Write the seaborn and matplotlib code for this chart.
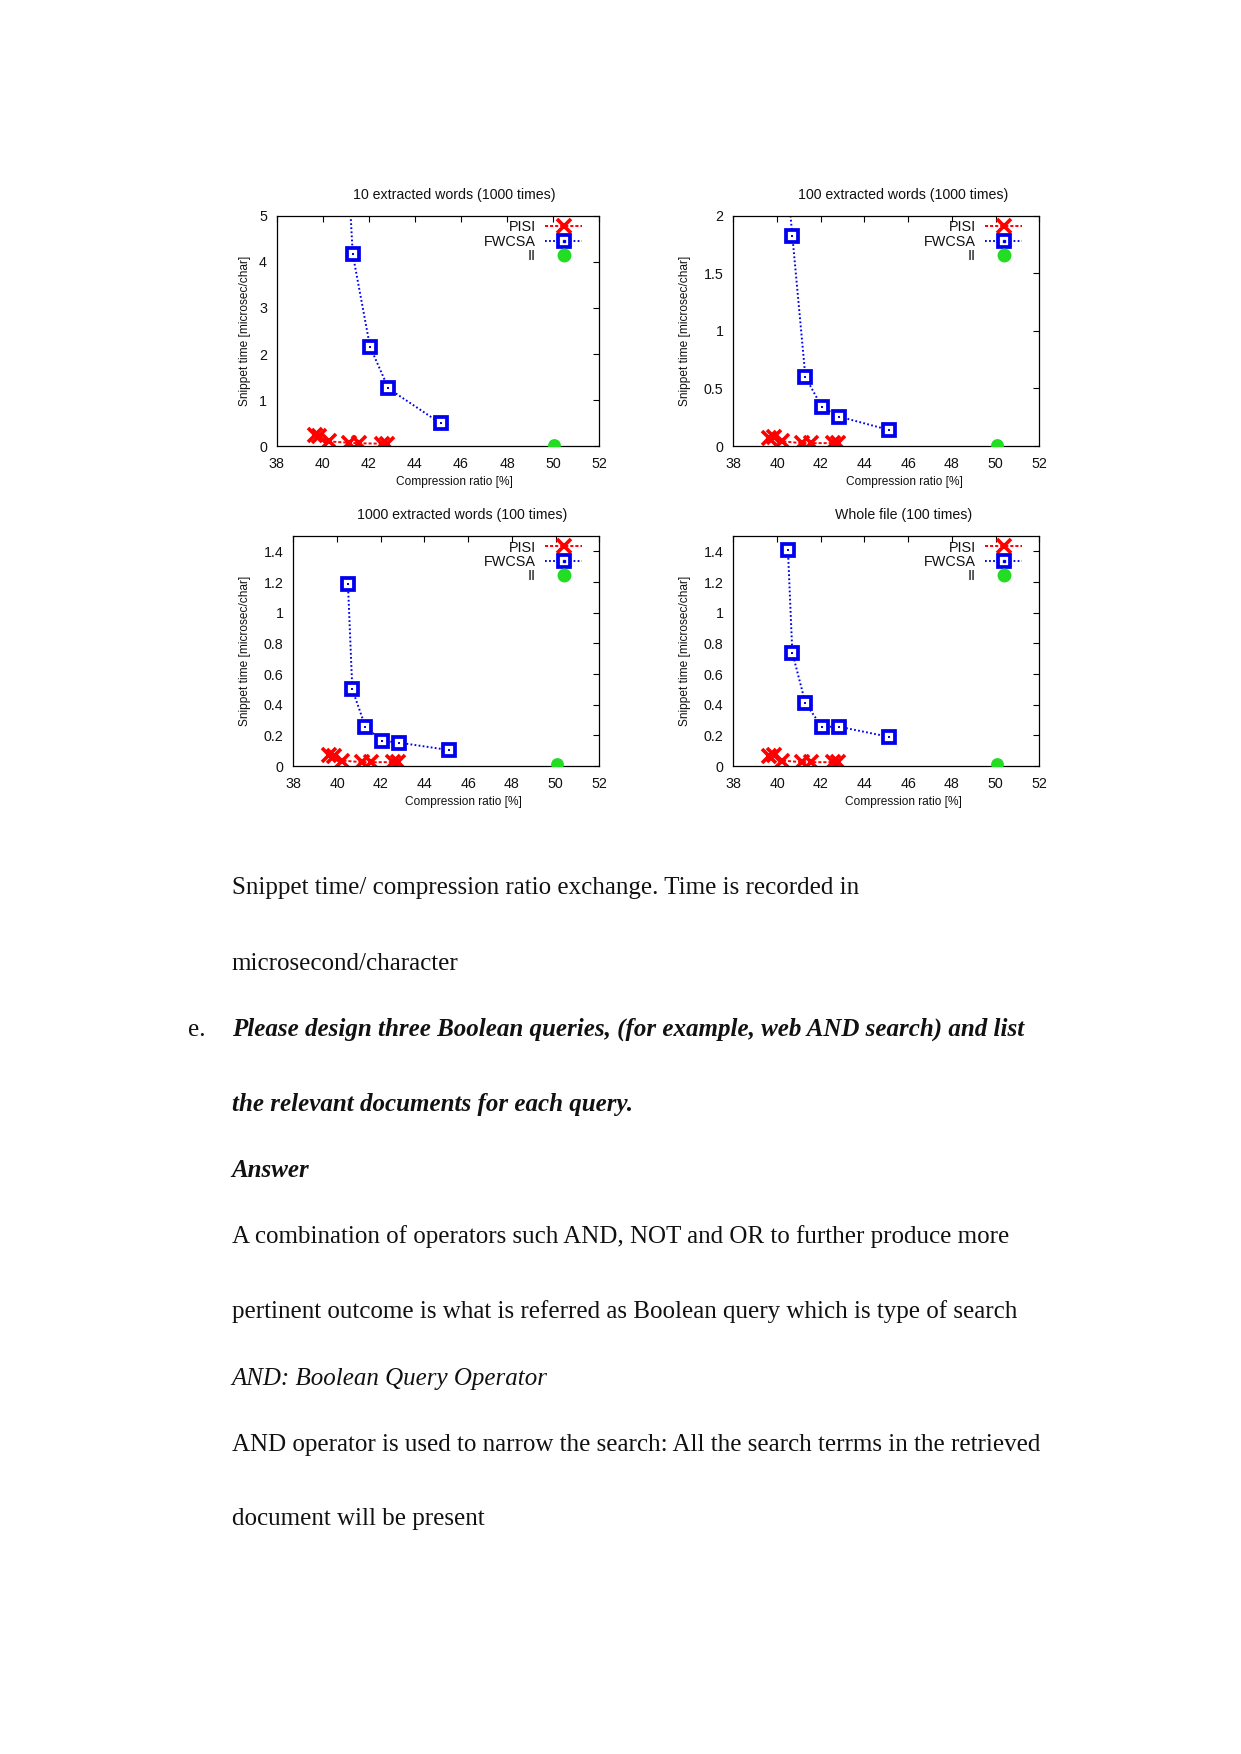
import numpy as np
import pandas as pd
import seaborn as sns
import matplotlib
matplotlib.use("Agg")
import matplotlib.pyplot as plt
from matplotlib.lines import Line2D
from matplotlib.ticker import FuncFormatter

# ---------------- data ----------------
panel_titles = ["10 extracted words (1000 times)", "100 extracted words (1000 times)",
                "1000 extracted words (100 times)", "Whole file (100 times)"]
series_names = ["PISI", "FWCSA", "II"]

pisi_x = [39.65, 39.85, 40.25, 41.15, 41.55, 42.55, 42.8]
pisi_y_10 = [0.25, 0.22, 0.10, 0.07, 0.06, 0.05, 0.05]
pisi_y_100 = [0.07, 0.08, 0.04, 0.025, 0.025, 0.025, 0.025]
pisi_y_1000 = [0.07, 0.065, 0.035, 0.025, 0.025, 0.025, 0.025]
pisi_y_whole = [0.065, 0.07, 0.035, 0.025, 0.025, 0.025, 0.025]

fwcsa_x = [40.5, 40.7, 41.3, 42.05, 42.85, 45.12]
fwcsa_y_10 = [14.0, 9.7, 4.17, 2.16, 1.25, 0.49]
fwcsa_y_100 = [2.25, 1.83, 0.60, 0.34, 0.255, 0.14]
fwcsa_y_1000 = [1.19, 0.50, 0.256, 0.165, 0.152, 0.104]
fwcsa_y_whole = [1.41, 0.74, 0.41, 0.256, 0.256, 0.19]

ii_x = [50.05]
ii_y_10 = [0.02]
ii_y_100 = [0.01]
ii_y_1000 = [0.01]
ii_y_whole = [0.01]

x_ticks = [38, 40, 42, 44, 46, 48, 50, 52]
y_ticks_10 = [0, 1, 2, 3, 4, 5]
y_ticks_100 = [0, 0.5, 1, 1.5, 2]
y_ticks_1000 = [0, 0.2, 0.4, 0.6, 0.8, 1, 1.2, 1.4]
y_ticks_whole = [0, 0.2, 0.4, 0.6, 0.8, 1, 1.2, 1.4]
y_max = [5, 2, 1.5, 1.5]

x_label = "Compression ratio [%]"
y_label = "Snippet time [microsec/char]"

body_lines = [
    ("Snippet time/ compression ratio exchange. Time is recorded in", "normal", "normal"),
    ("microsecond/character", "normal", "normal"),
    ("Please design three Boolean queries, (for example, web AND search) and list", "bold", "italic"),
    ("the relevant documents for each query.", "bold", "italic"),
    ("Answer", "bold", "italic"),
    ("A combination of operators such AND, NOT and OR to further produce more", "normal", "normal"),
    ("pertinent outcome is what is referred as Boolean query which is type of search", "normal", "normal"),
    ("AND: Boolean Query Operator", "normal", "italic"),
    ("AND operator is used to narrow the search: All the search terrms in the retrieved", "normal", "normal"),
    ("document will be present", "normal", "normal"),
]

panels = [
    (pisi_y_10, fwcsa_y_10, ii_y_10, y_ticks_10),
    (pisi_y_100, fwcsa_y_100, ii_y_100, y_ticks_100),
    (pisi_y_1000, fwcsa_y_1000, ii_y_1000, y_ticks_1000),
    (pisi_y_whole, fwcsa_y_whole, ii_y_whole, y_ticks_whole),
]

# ---------------- style / layout ----------------
W, H = 1241, 1754
sns.set_theme(style="white")
plt.rcParams["font.family"] = ["Liberation Sans", "DejaVu Sans"]

RED = "#ff0000"
BLUE = "#0000ee"
GREEN = "#22dd22"
RED_LS = (0, (1.6, 1.0))
BLUE_LS = (0, (0.9, 1.2))

# axes boxes in pixels: left, right, top, bottom
boxes = [(276.7, 599.3, 216, 446), (733.3, 1039.3, 216, 446),
         (293.3, 599.3, 536, 766), (733.3, 1039.3, 536, 766)]
title_pos = [(454, 195), (903, 195), (462, 515), (904, 515)]
xlabel_pos = [(454, 482), (904, 482), (463, 802), (903, 802)]
ylabel_x = [245, 685, 245, 685]

fig = plt.figure(figsize=(W / 100, H / 100), dpi=100)
fig.patch.set_facecolor("white")

fmt = FuncFormatter(lambda v, p: "%g" % v)

for i, (py, fy, iy, yt) in enumerate(panels):
    l, r, t, b = boxes[i]
    ax = fig.add_axes([l / W, 1 - b / H, (r - l) / W, (b - t) / H])
    ax.set_facecolor("white")

    sns.lineplot(x=pisi_x, y=py, ax=ax, sort=False, estimator=None,
                 color=RED, linestyle=RED_LS, linewidth=1.4,
                 marker="x", markersize=9.5, markeredgewidth=2.6, markeredgecolor=RED)
    sns.lineplot(x=fwcsa_x, y=fy, ax=ax, sort=False, estimator=None,
                 color=BLUE, linestyle=BLUE_LS, linewidth=1.4,
                 marker="s", markersize=8.3, markerfacecolor="white",
                 markeredgecolor=BLUE, markeredgewidth=2.7)
    sns.scatterplot(x=fwcsa_x, y=fy, ax=ax, marker="s", s=3.5, color=BLUE,
                    edgecolor=BLUE, linewidth=0, zorder=5)
    sns.scatterplot(x=ii_x, y=iy, ax=ax, marker="o", s=85, color=GREEN,
                    edgecolor=GREEN, linewidth=0, zorder=5)

    ax.set_xlim(38, 52)
    ax.set_ylim(0, y_max[i])
    ax.set_xticks(x_ticks)
    ax.set_yticks(yt)
    ax.yaxis.set_major_formatter(fmt)
    ax.xaxis.set_major_formatter(fmt)
    ax.tick_params(direction="in", top=True, right=True, length=4, width=0.8,
                   color="black", labelsize=10.3, labelcolor="#111111")
    ax.tick_params(axis="x", pad=8)
    ax.tick_params(axis="y", pad=7)
    for s in ax.spines.values():
        s.set_visible(True)
        s.set_color("black")
        s.set_linewidth(0.9)

    ax.set_xlabel(x_label, fontsize=8.6, color="#111111")
    ax.set_ylabel(y_label, fontsize=8.6, color="#111111")
    xl, yl = xlabel_pos[i]
    ax.xaxis.set_label_coords((xl - l) / (r - l), (b - yl) / (b - t))
    ax.xaxis.label.set_va("center")
    ax.yaxis.set_label_coords((ylabel_x[i] - l) / (r - l), 0.5)
    ax.yaxis.label.set_va("center")

    tx, ty = title_pos[i]
    fig.text(tx / W, 1 - ty / H, panel_titles[i], ha="center", va="center",
             fontsize=10.2, color="#111111")

    h_pisi = Line2D([], [], color=RED, linestyle=RED_LS, linewidth=1.4,
                    marker="x", markersize=10, markeredgewidth=2.6)
    h_fw = (Line2D([], [], color=BLUE, linestyle=BLUE_LS, linewidth=1.4,
                   marker="s", markersize=8.3, markerfacecolor="white",
                   markeredgecolor=BLUE, markeredgewidth=2.7),
            Line2D([], [], linestyle="none", marker="s", markersize=1.8, color=BLUE))
    h_ii = Line2D([], [], linestyle="none", marker="o", markersize=9, color=GREEN)
    top_px = (t + 4.5)
    ax.legend([h_pisi, h_fw, h_ii], series_names, loc="upper right",
              bbox_to_anchor=((r - 17 - l) / (r - l), (b - top_px) / (b - t)),
              markerfirst=False, frameon=False, fontsize=10.4, handlelength=2.6,
              handletextpad=0.6, labelspacing=0.03, borderpad=0, borderaxespad=0)
    for txt in ax.get_legend().get_texts():
        txt.set_color("#111111")

# ---------------- body text ----------------
body_y = [888.5, 963.5, 1029.5, 1104.5, 1170.5, 1236.5, 1311.5, 1378.6, 1444.6, 1518.5]
for (txt, wt, st), y in zip(body_lines, body_y):
    fig.text(231.7 / W, 1 - y / H, txt, ha="left", va="center", fontsize=18,
             family="Liberation Serif", weight=wt, style=st, color="#111111")
fig.text(188 / W, 1 - 1029.5 / H, "e.", ha="left", va="center", fontsize=18,
         family="Liberation Serif", color="#111111")

fig.savefig("out.png", dpi=100, facecolor="white")
